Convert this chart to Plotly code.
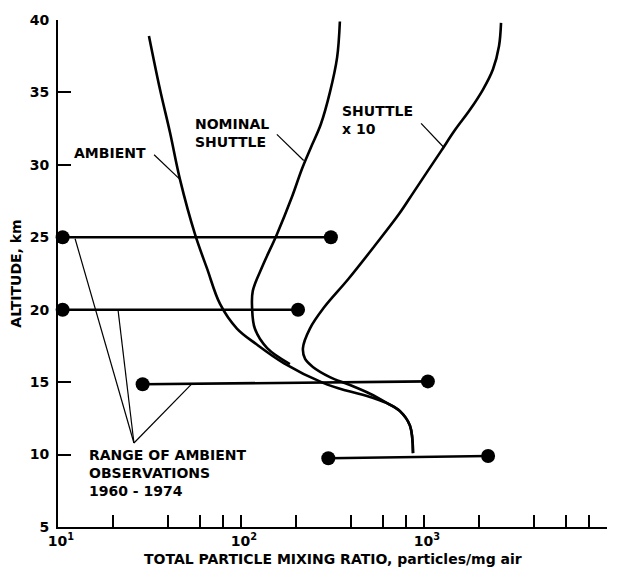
import plotly.graph_objects as go

# Total particle mixing ratio (particles/mg air) versus altitude (km)
ambient_alt = [38.9, 35.2, 32.25, 29.0, 25.2, 22.85, 20.4, 18.7, 17.6, 16.3, 14.95, 14.4, 14.05, 13.55, 13.0, 12.0, 10.1]
ambient_val = [31.4, 36.1, 40.9, 46.4, 56.1, 65.2, 76.8, 95.0, 122, 172, 281, 380, 488, 628, 739, 838, 871]

nominal_alt = [39.9, 37.4, 35.0, 32.8, 31.2, 29.7, 27.8, 25.2, 23.1, 21.3, 20.1, 18.7, 17.35, 16.25]
nominal_val = [347, 335, 306, 273, 241, 215, 190, 157, 132, 116, 115, 119, 139, 185]

shuttle10_alt = [39.8, 38.2, 36.6, 35.2, 33.8, 32.4, 30.95, 29.5, 28.05, 26.6, 24.35, 22.1, 20.15, 18.7, 17.35, 16.6, 16.05, 15.35, 14.8, 14.2, 13.55, 13.0, 12.0, 10.1]
shuttle10_val = [2636, 2570, 2382, 2100, 1782, 1476, 1239, 1038, 871, 730, 533, 385, 284, 238, 218, 224, 247, 306, 394, 507, 628, 739, 838, 871]

# Range of ambient observations 1960-1974: (low, high) at each altitude
range_low_val = [10.6, 10.6, 29, 300]
range_high_val = [310, 205, 1050, 2240]
range_low_alt = [25.0, 20.0, 14.85, 9.75]
range_high_alt = [25.0, 20.0, 15.05, 9.9]

# Tick values
x_major = [10, 100, 1000, 10000]
x_major_text = ["10<sup>1</sup>", "10<sup>2</sup>", "10<sup>3</sup>", "10<sup>4</sup>"]
x_minor = [m * d for d in (10, 100, 1000) for m in (2, 4, 6, 8)]
y_ticks = [5, 10, 15, 20, 25, 30, 35, 40]

# Leader lines: (x0, y0, x1, y1) in data units
leaders = [
    (33.5, 30.7, 46.4, 29.0),      # AMBIENT
    (157, 32.1, 220, 30.3),        # NOMINAL SHUTTLE
    (964, 32.86, 1285, 31.2),      # SHUTTLE x 10
    (12.4, 24.9, 26, 10.8),        # range label -> 25 km bar
    (21.3, 19.95, 26, 10.8),       # range label -> 20 km bar
    (54, 14.9, 26, 10.8),          # range label -> 15 km bar
]

FONT = "DejaVu Sans"
INK = "black"

fig = go.Figure()

for vals, alts in ((ambient_val, ambient_alt), (nominal_val, nominal_alt), (shuttle10_val, shuttle10_alt)):
    fig.add_trace(go.Scatter(x=vals, y=alts, mode="lines",
                             line=dict(color=INK, width=2.6, shape="spline", smoothing=1.0),
                             hoverinfo="skip"))

for lo, hi, ya, yb in zip(range_low_val, range_high_val, range_low_alt, range_high_alt):
    fig.add_trace(go.Scatter(x=[lo, hi], y=[ya, yb], mode="lines+markers",
                             line=dict(color=INK, width=2.6),
                             marker=dict(color=INK, size=14),
                             cliponaxis=False, hoverinfo="skip"))

for x0, y0, x1, y1 in leaders:
    fig.add_trace(go.Scatter(x=[x0, x1], y=[y0, y1], mode="lines",
                             line=dict(color=INK, width=1.2), hoverinfo="skip"))

label_font = dict(family=FONT, size=14, color=INK, weight="bold")
labels = [
    ("AMBIENT", 1.077, 30.8),
    ("NOMINAL<br>SHUTTLE", 1.738, 32.2),
    ("SHUTTLE<br>x 10", 2.541, 33.1),
    ("RANGE OF AMBIENT<br>OBSERVATIONS<br>1960 - 1974", 1.158, 8.7),
]
for text, lx, ly in labels:
    fig.add_annotation(text=text, x=lx, y=ly, xref="x", yref="y",
                       xanchor="left", yanchor="middle", align="left",
                       showarrow=False, font=label_font)

# Axis titles
fig.add_annotation(text="TOTAL PARTICLE MIXING RATIO, particles/mg air",
                   x=0.5, y=-0.064, xref="paper", yref="paper",
                   xanchor="center", yanchor="middle", showarrow=False, font=label_font)
fig.add_annotation(text="ALTITUDE, km", textangle=-90,
                   x=-0.078, y=0.50, xref="paper", yref="paper",
                   xanchor="center", yanchor="middle", showarrow=False, font=label_font)

fig.update_xaxes(type="log", range=[1, 4],
                 tickvals=x_major, ticktext=x_major_text,
                 ticks="inside", ticklen=12, tickwidth=1.5, tickcolor=INK,
                 minor=dict(tickvals=x_minor, ticks="inside", ticklen=12, tickwidth=1.5, tickcolor=INK, showgrid=False),
                 showline=True, linecolor=INK, linewidth=2,
                 showgrid=False, zeroline=False,
                 ticklabelstandoff=0, ticklabelshift=3,
                 tickfont=dict(family=FONT, size=14, color=INK, weight="bold"))
fig.update_yaxes(range=[5, 40], tickvals=y_ticks,
                 ticks="inside", ticklen=13, tickwidth=1.5, tickcolor=INK,
                 showline=True, linecolor=INK, linewidth=2,
                 showgrid=False, zeroline=False,
                 ticklabelstandoff=4,
                 tickfont=dict(family=FONT, size=14, color=INK, weight="bold"))

fig.update_layout(width=620, height=569,
                  margin=dict(l=58, r=13, t=17, b=42),
                  paper_bgcolor="white", plot_bgcolor="white",
                  showlegend=False)

fig.write_html("out.html")
